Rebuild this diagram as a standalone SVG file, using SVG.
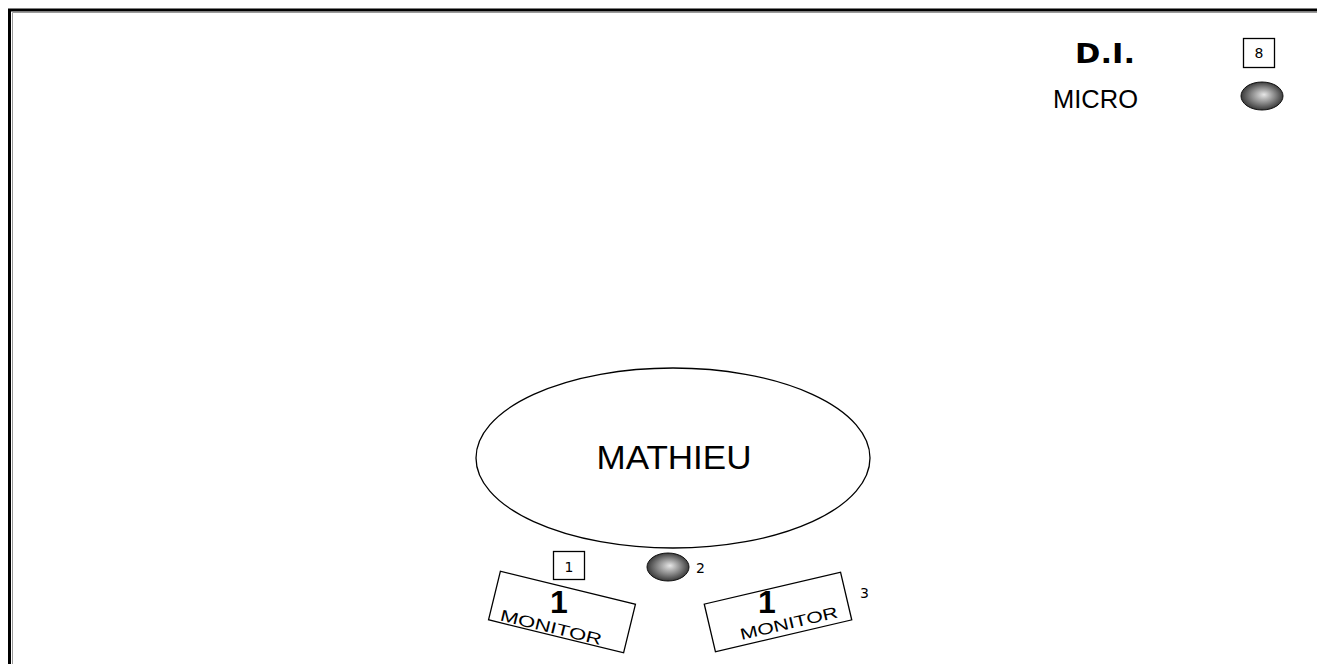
<svg xmlns="http://www.w3.org/2000/svg" width="1317" height="664" viewBox="0 0 1317 664">
<defs>
<radialGradient id="mic" cx="50%" cy="50%" r="55%" fx="55%" fy="45%">
<stop offset="0" stop-color="#e6e6e6"/>
<stop offset="0.5" stop-color="#8a8a8a"/>
<stop offset="1" stop-color="#2a2a2a"/>
</radialGradient>
<style>
.ln{fill:none;stroke:#000;stroke-width:1.3}
.box{fill:#fff;stroke:#000;stroke-width:1.3}
.micro{fill:url(#mic);stroke:#111;stroke-width:1}
.t{font-family:"DejaVu Sans","Liberation Sans",sans-serif;fill:#000}
.big1{font-family:"Liberation Sans",Arial,sans-serif;font-weight:bold;font-size:32px;fill:#000;text-anchor:middle}
.mon{font-family:"Liberation Sans",Arial,sans-serif;font-size:16px;fill:#000;text-anchor:middle}
.small{font-family:"DejaVu Sans","Liberation Sans",sans-serif;font-size:14px;fill:#000}
</style>
</defs>
<rect width="1317" height="664" fill="#fff"/>
<g id="frame">
<path d="M9.5 664 V10 H1317" fill="none" stroke="#000" stroke-width="3"/>
<path d="M12.5 664 V12.5 H1317" fill="none" stroke="#9a9a9a" stroke-width="1"/>
</g>
<g id="legend">
<text class="t" x="1105" y="63" font-size="26" font-weight="bold" text-anchor="middle" textLength="60" lengthAdjust="spacingAndGlyphs">D.I.</text>
<rect class="box" x="1243.5" y="38.5" width="31" height="29"/>
<text class="small" x="1259" y="58" font-size="13" text-anchor="middle">8</text>
<text x="1053" y="108" font-family="Liberation Sans,Arial,sans-serif" font-size="26" textLength="85" lengthAdjust="spacingAndGlyphs">MICRO</text>
<ellipse class="micro" cx="1262" cy="96" rx="21" ry="14"/>
</g>
<g id="mathieu">
<ellipse class="ln" cx="673" cy="458" rx="197" ry="90"/>
<text x="674" y="469" font-family="Liberation Sans,Arial,sans-serif" font-size="33" text-anchor="middle" textLength="155" lengthAdjust="spacingAndGlyphs">MATHIEU</text>
</g>
<g id="di1">
<rect class="box" x="553.5" y="551.5" width="31" height="28"/>
<text class="small" x="569" y="572" font-size="17" text-anchor="middle">1</text>
</g>
<g id="mic2">
<ellipse class="micro" cx="668" cy="567" rx="21" ry="14"/>
<text class="small" x="696" y="573" font-size="15">2</text>
</g>
<g id="monitor1">
<rect class="box" transform="translate(562 612) rotate(13.7)" x="-69.5" y="-25" width="139" height="50"/>
<text class="big1" x="559" y="613">1</text>
<text class="mon" transform="translate(562 612) rotate(13.7)" x="-7" y="23" textLength="104" lengthAdjust="spacingAndGlyphs">MONITOR</text>
</g>
<g id="monitor3">
<rect class="box" transform="translate(778 612) rotate(-13.2)" x="-70" y="-24.5" width="140" height="49"/>
<text class="big1" x="767" y="613">1</text>
<text class="mon" transform="translate(778 612) rotate(-13.2)" x="8" y="19" textLength="100" lengthAdjust="spacingAndGlyphs">MONITOR</text>
<text class="small" x="860" y="598" font-size="15">3</text>
</g>
<g id="connectors"/>
</svg>
